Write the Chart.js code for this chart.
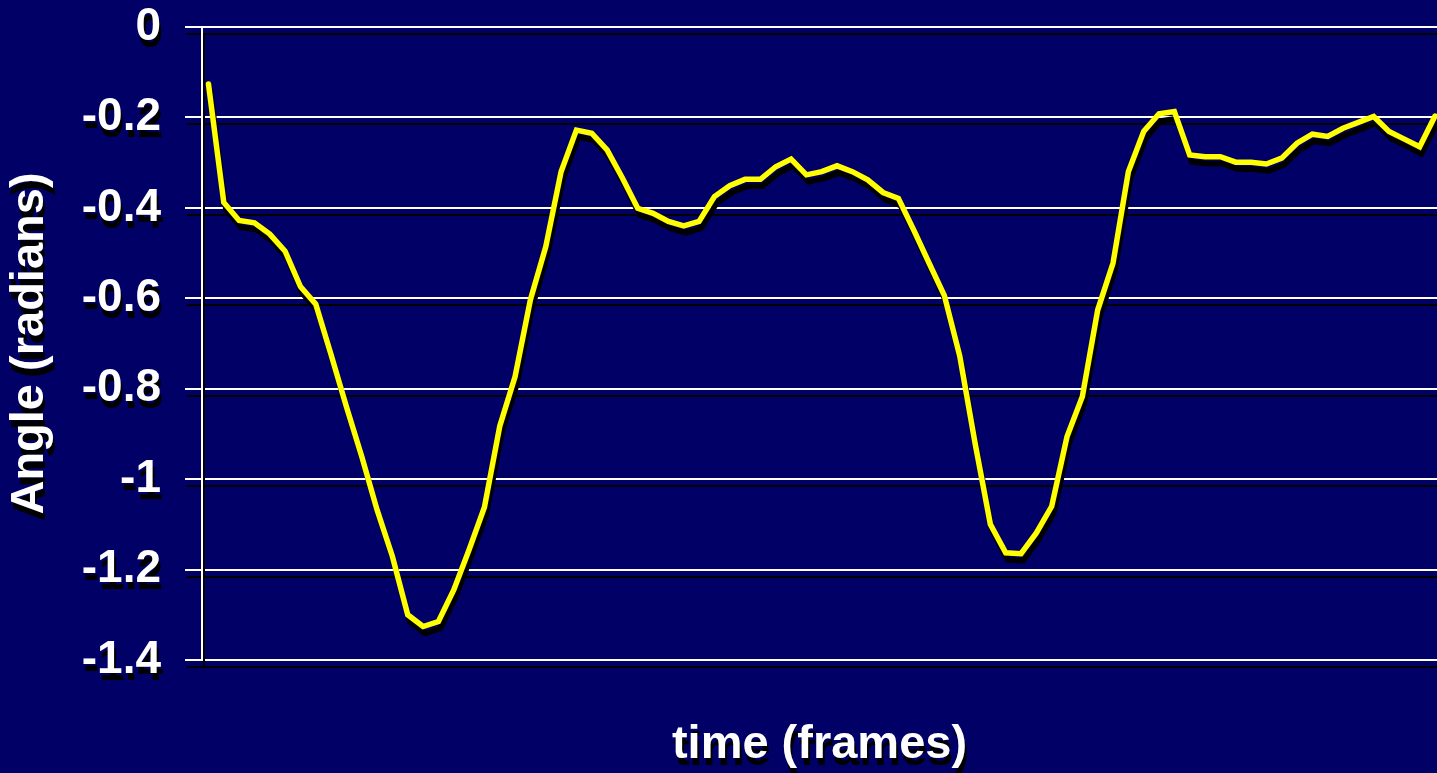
<!DOCTYPE html>
<html>
<head>
<meta charset="utf-8">
<script src="https://cdn.jsdelivr.net/npm/chart.js@4.4.0/dist/chart.umd.min.js"></script>
<style>
html,body{margin:0;padding:0;background:#000066;overflow:hidden}
#wrap{width:1437px;height:773px;position:relative}
canvas{display:block}
</style>
</head>
<body>
<div id="wrap"><canvas id="c" width="1437" height="773"></canvas></div>
<script>
// ---- data ----
const frames = [1,2,3,4,5,6,7,8,9,10,11,12,13,14,15,16,17,18,19,20,
  21,22,23,24,25,26,27,28,29,30,31,32,33,34,35,36,37,38,39,40,
  41,42,43,44,45,46,47,48,49,50,51,52,53,54,55,56,57,58,59,60,
  61,62,63,64,65,66,67,68,69,70,71,72,73,74,75,76,77,78,79,80,81];
const angle = [-0.126,-0.388,-0.428,-0.433,-0.458,-0.496,-0.574,-0.613,-0.725,-0.840,
  -0.950,-1.068,-1.171,-1.300,-1.326,-1.315,-1.245,-1.156,-1.062,-0.883,
  -0.773,-0.603,-0.486,-0.320,-0.228,-0.235,-0.272,-0.334,-0.401,-0.412,
  -0.430,-0.440,-0.430,-0.375,-0.351,-0.337,-0.337,-0.309,-0.292,-0.327,
  -0.320,-0.307,-0.320,-0.338,-0.366,-0.379,-0.449,-0.522,-0.594,-0.727,
  -0.920,-1.100,-1.163,-1.165,-1.119,-1.060,-0.906,-0.817,-0.626,-0.522,
  -0.320,-0.231,-0.192,-0.187,-0.283,-0.287,-0.287,-0.299,-0.299,-0.303,
  -0.290,-0.257,-0.237,-0.242,-0.224,-0.211,-0.198,-0.231,-0.248,-0.265,-0.197];
const yTickValues = [-1.4,-1.2,-1,-0.8,-0.6,-0.4,-0.2,0];
const yTickLabels = ['-1.4','-1.2','-1','-0.8','-0.6','-0.4','-0.2','0'];
const xTitle = 'time (frames)';
const yTitle = 'Angle (radians)';

const FONT = "'Liberation Sans', Arial, Helvetica, sans-serif";

const shadowPlugin = {
  id: 'dropShadow',
  beforeDraw(chart) {
    const c = chart.ctx;
    c.save();
    c.shadowColor = '#000000';
    c.shadowOffsetX = 2;
    c.shadowOffsetY = 7;
    c.shadowBlur = 0;
  },
  afterDraw(chart) {
    chart.ctx.restore();
  }
};

new Chart(document.getElementById('c'), {
  type: 'line',
  data: {
    datasets: [{
      data: frames.map((f, i) => ({x: f, y: angle[i]})),
      borderColor: '#ffff00',
      borderWidth: 5.5,
      pointRadius: 0,
      tension: 0,
      fill: false,
      borderJoinStyle: 'miter',
      borderCapStyle: 'round'
    }]
  },
  options: {
    responsive: false,
    animation: false,
    devicePixelRatio: 1,
    layout: {padding: {top: 27, left: 0, right: 0, bottom: 0}},
    plugins: {legend: {display: false}, tooltip: {enabled: false}},
    scales: {
      x: {
        type: 'linear',
        min: 0.58,
        max: 81.13,
        afterFit(s) { s.height = 113; s.paddingLeft = 0; s.paddingRight = 0; },
        ticks: {display: false},
        grid: {display: false},
        border: {display: false},
        title: {
          display: true, text: xTitle, color: '#ffffff',
          font: {family: FONT, size: 47, weight: 'bold', lineHeight: 1.2},
          padding: {top: 0, bottom: 0}
        }
      },
      y: {
        min: -1.4,
        max: 0,
        afterFit(s) { s.width = 202; s.paddingTop = 0; s.paddingBottom = 0; },
        afterBuildTicks(s) { s.ticks = yTickValues.map(v => ({value: v})); },
        ticks: {
          color: '#ffffff',
          font: {family: FONT, size: 46, weight: 'bold', lineHeight: 1.15},
          padding: 24,
          callback: (v) => yTickLabels[yTickValues.indexOf(v)]
        },
        grid: {color: '#ffffff', lineWidth: 2, tickLength: 17, drawTicks: true},
        border: {display: true, color: '#ffffff', width: 2},
        title: {
          display: true, text: yTitle, color: '#ffffff',
          font: {family: FONT, size: 47, weight: 'bold', lineHeight: 1.2},
          padding: {top: 2, bottom: 0}
        }
      }
    }
  },
  plugins: [shadowPlugin]
});
</script>
</body>
</html>
